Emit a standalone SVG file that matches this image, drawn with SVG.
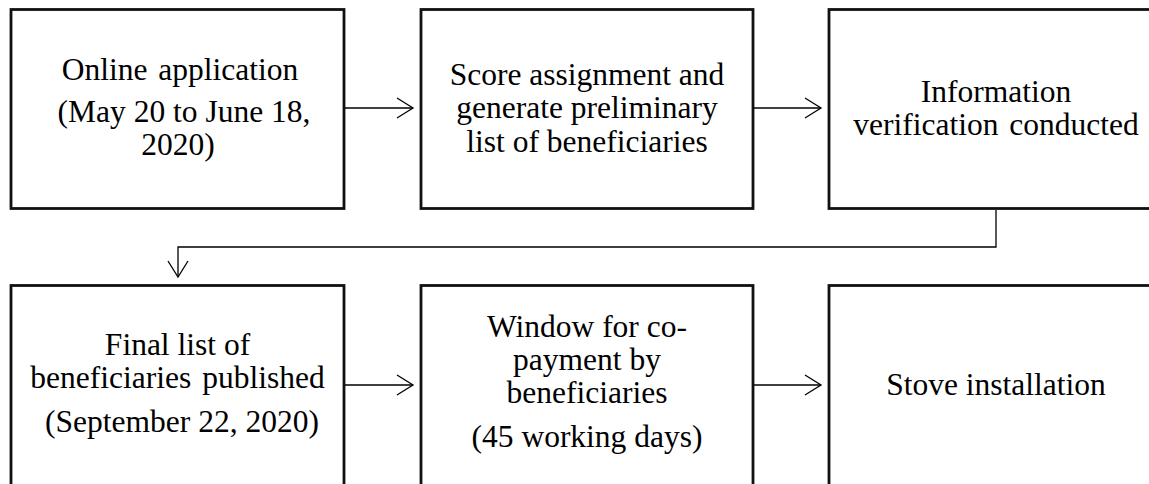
<svg xmlns="http://www.w3.org/2000/svg" width="1149" height="484" viewBox="0 0 1149 484">
<defs>
<marker id="arr" viewBox="0 0 20 24" refX="18" refY="12" markerWidth="20" markerHeight="24" markerUnits="userSpaceOnUse" orient="auto">
<path d="M2,2 L18,12 L2,22" fill="none" stroke="#000" stroke-width="1.3"/>
</marker>
<style>
.box{fill:#fff;stroke:#111;stroke-width:2.8}
.lbl{font-family:"Liberation Serif","Times New Roman",serif;font-size:31.5px;fill:#000;text-anchor:middle}
.con{fill:none;stroke:#000;stroke-width:1.3}
</style>
</defs>
<rect width="1149" height="484" fill="#fff"/>
<g id="n1">
<rect class="box" x="11" y="9.5" width="333" height="199"/>
<text class="lbl" x="180" y="80" word-spacing="3">Online application</text>
<text class="lbl" x="184" y="122">(May 20 to June 18,</text>
<text class="lbl" x="178" y="155">2020)</text>
</g>
<g id="n2">
<rect class="box" x="421" y="9.5" width="332" height="199"/>
<text class="lbl" x="587" y="85">Score assignment and</text>
<text class="lbl" x="587" y="118">generate preliminary</text>
<text class="lbl" x="587" y="152">list of beneficiaries</text>
</g>
<g id="n3">
<rect class="box" x="829" y="9.5" width="334" height="199"/>
<text class="lbl" x="996" y="102">Information</text>
<text class="lbl" x="996" y="135" word-spacing="3">verification conducted</text>
</g>
<g id="n4">
<rect class="box" x="11" y="285.5" width="333" height="200"/>
<text class="lbl" x="177.5" y="355">Final list of</text>
<text class="lbl" x="177.5" y="388" word-spacing="3">beneficiaries published</text>
<text class="lbl" x="182" y="432">(September 22, 2020)</text>
</g>
<g id="n5">
<rect class="box" x="421" y="285.5" width="332" height="200"/>
<text class="lbl" x="587" y="337">Window for co-</text>
<text class="lbl" x="587" y="370">payment by</text>
<text class="lbl" x="587" y="403">beneficiaries</text>
<text class="lbl" x="587" y="447">(45 working days)</text>
</g>
<g id="n6">
<rect class="box" x="829" y="285.5" width="334" height="200"/>
<text class="lbl" x="996" y="395">Stove installation</text>
</g>
<g id="connectors">
<line class="con" x1="345" y1="108" x2="413" y2="108" marker-end="url(#arr)"/>
<line class="con" x1="754" y1="108" x2="821" y2="108" marker-end="url(#arr)"/>
<polyline class="con" points="996,210 996,247 178,247 178,277" marker-end="url(#arr)"/>
<line class="con" x1="345" y1="385" x2="413" y2="385" marker-end="url(#arr)"/>
<line class="con" x1="754" y1="385" x2="821" y2="385" marker-end="url(#arr)"/>
</g>
</svg>
